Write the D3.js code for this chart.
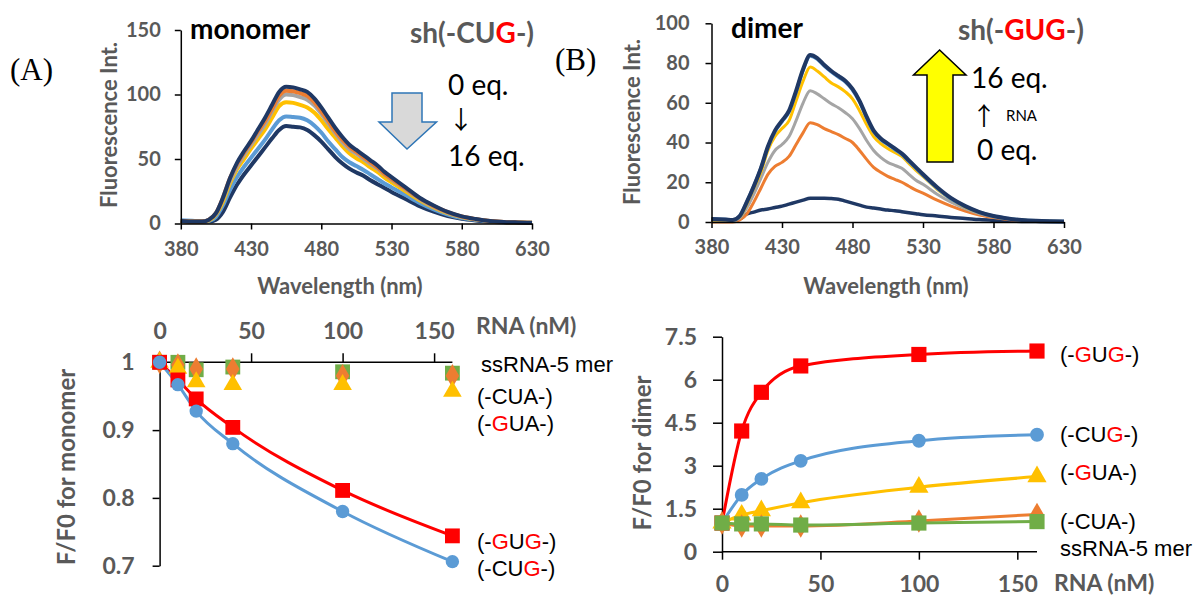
<!DOCTYPE html>
<html><head><meta charset="utf-8">
<script src="https://cdn.jsdelivr.net/npm/d3@7"></script>
<style>
body{margin:0;background:#fff;}
svg{display:block;}
.tk text{font-family:Lato,sans-serif;font-weight:700;fill:#595959;}
.tk line,.tk path{stroke:#000;stroke-width:1.5;}
</style></head>
<body><svg id="c" width="1202" height="596"></svg>
<script>
// ---------- DATA ----------
const wavelengths = [380,390,395,400,405,410,415,420,425,430,435,440,445,450,455,460,465,470,475,480,485,490,495,500,505,510,515,520,525,530,540,550,560,570,580,590,600,610,620,630];
// monomer spectra (sh(-CUG-)), 0 eq -> 16 eq
const monoNavy0   = [2,1.5,1.5,3,8,20,35,47,56,64,73,82,92,102,106,105.5,104,102,97,90,82,74,67,61,57,53,49,45,40,36,28,20,14,9,5.5,3.5,2,1.2,0.8,0.5];
const monoOrange  = [2,1.5,1.5,3,8,20,35,46,55,63,71.5,79.5,89,99,103,102.5,101,99,94,87,79.5,71.5,65,59.5,55.5,51.5,47.5,43.5,38.5,34.5,27,19.5,13.5,8.8,5.4,3.4,2,1.2,0.8,0.5];
const monoGray    = [2,1.5,1.5,3,7.5,19,33,44,53,61,69,77,87,96,100,99.5,98,96,91.5,85,77.5,70,63,57.5,54,50,46,42.5,38,34,26.5,19,13,8.5,5.2,3.3,1.9,1.1,0.8,0.5];
const monoYellow  = [2,1.5,1.5,2.5,7,17,31,42,50,58,65.5,73,82,91,94,93.5,92,90,86,80,73,66.5,60,54.5,50.5,47.5,43.5,40,35.5,32,25,18,12.5,8,5,3.2,1.8,1.1,0.7,0.5];
const monoLtBlue  = [2.5,2,1.5,2,5,14,26,36,44,51,58,65,73,80,83,82.5,82,80,76,70.5,63.5,57.5,51.5,47.5,44.5,41.5,38,34.5,31,28,22,16,11,7,4.3,2.8,1.6,1,0.6,0.4];
const monoNavy16  = [2,1.5,1.5,1.5,3,9,20,30,38,45,52,59,66,72.5,75.5,75,74.5,72.5,68.5,63.5,57.5,51.5,46.5,42.5,39.5,37,33.5,30.5,27.5,24.5,19,13.5,9.2,5.8,3.7,2.4,1.4,0.9,0.5,0.3];
// dimer spectra (sh(-GUG-)), 0 eq -> 16 eq
const dimNavy0    = [1,0.8,0.5,1.5,4,5,6,6.5,7.3,8,9,10,11,12,12,12,11.8,11.5,10.5,9.5,8.5,7.5,7,6.5,6,5.7,5.2,4.7,4.2,3.7,3,2.3,1.8,1.2,0.8,0.5,0.3,0.2,0.1,0.1];
const dimOrange   = [0,0,0,1,4,10,17,24,28,30,33,39,45,50,49,47,45.5,44,42,40,36,31.5,27.5,25,23,21.5,20,18,16,14.5,11,8,5.5,3.5,2.2,1.3,0.8,0.5,0.3,0.2];
const dimGray     = [0.8,0.8,0.6,2,7,14,22,30,36,39,43,51,60,66,64.5,62,59.5,57.5,55,52,47,41,36,32.5,30,28.5,27,24,21,19,14,10,6.8,4.3,2.6,1.6,1,0.6,0.4,0.3];
const dimYellow   = [1,1,0.8,2.5,9,17,25,36,43,47,51,61,71,78,76,73,70,68,65.5,62,56,49,43,39.5,37,35,33,29.5,26,23,16.5,11.5,7.5,4.7,2.8,1.7,1,0.6,0.4,0.3];
const dimLtBlue   = [1.5,1.2,1,3,10,18,27,37.5,45.5,50.5,55.5,65.5,76.5,83.5,82,78.5,75.5,73,70.5,66.5,60.5,52.5,45.5,41.5,39,36.5,34,30.5,27,23.5,17,11.5,7.8,4.9,2.9,1.8,1,0.6,0.4,0.3];
const dimNavy16   = [1.5,1.2,1,3,10,18,27,38,46,51,56,66,77,84,82.5,79,76,73.5,71,67,61,53,46,42,39.5,37,34.5,31,27.5,24,17.5,12,8,5,3,1.8,1,0.6,0.4,0.3];
// titration F/F0
const rnaConc  = [0,10,20,40,100,160];
const monoGUG  = [1.0,0.974,0.946,0.904,0.811,0.744];
const monoCUG  = [1.0,0.967,0.928,0.880,0.780,0.706];
const monoGUA  = [1.0,0.991,0.971,0.967,0.967,0.957];
const monoCUA  = [1.0,0.996,0.990,0.990,0.980,0.980];
const monoSs   = [1.0,1.0,0.989,0.993,0.986,0.984];
const dimGUG   = [1.0,4.21,5.56,6.48,6.88,7.0];
const dimCUG   = [1.0,1.98,2.54,3.17,3.87,4.08];
const dimGUA   = [1.0,1.28,1.43,1.71,2.25,2.62];
const dimCUA   = [1.0,0.9,0.9,0.9,1.07,1.3];
const dimSs    = [1.0,0.97,0.97,0.93,1.0,1.05];
// ticks
const specTicksX = [380,430,480,530,580,630];
const monoSpecTicksY = [0,50,100,150];
const dimSpecTicksY = [0,20,40,60,80,100];
const rnaTicks = [0,50,100,150];
const monoRatioTicksY = [0.7,0.8,0.9,1];
const dimRatioTicksY = [0,1.5,3,4.5,6,7.5];

// ---------- COLORS ----------
const NAVY="#1F3864", ORANGE="#ED7D31", GRAY="#A5A5A5", YELLOW="#FFC000", LTBLUE="#5B9BD5", RED="#FF0000", GREEN="#70AD47", TXT="#595959";

const svg = d3.select("#c");

function axis(g, gen, fs){
  g.attr("class","tk").call(gen);
  g.selectAll("text").style("font-size", fs+"px");
}

// ---------- Panel A top ----------
(function(){
  const x = d3.scaleLinear().domain([380,630]).range([180.8,532]);
  const y = d3.scaleLinear().domain([0,150]).range([223.5,30]);
  const g = svg.append("g");
  const series = [[monoNavy16,NAVY],[monoLtBlue,LTBLUE],[monoYellow,YELLOW],[monoGray,GRAY],[monoOrange,ORANGE],[monoNavy0,NAVY]];
  const line = d3.line().x((d,i)=>x(wavelengths[i])).y(d=>y(d)).curve(d3.curveMonotoneX);
  series.forEach(s=>g.append("path").attr("d",line(s[0])).attr("fill","none").attr("stroke",s[1]).attr("stroke-width",4).attr("stroke-linejoin","round"));
  const ax = g.append("g").attr("transform",`translate(0,${y(0)})`);
  axis(ax, d3.axisBottom(x).tickValues(specTicksX).tickSize(6).tickSizeOuter(0).tickPadding(12).tickFormat(d3.format("d")), 20);
  const ay = g.append("g").attr("transform",`translate(${x(380)},0)`);
  axis(ay, d3.axisLeft(y).tickValues(monoSpecTicksY).tickSize(6).tickSizeOuter(0).tickPadding(14).tickFormat(d3.format("d")), 20);
  g.append("text").attr("x",340).attr("y",294).attr("text-anchor","middle").attr("font-family","Lato").attr("font-weight",700).attr("font-size",22).attr("fill",TXT).text("Wavelength (nm)");
  g.append("text").attr("transform","translate(111,125) rotate(-90)").attr("text-anchor","middle").attr("dominant-baseline","middle").attr("font-family","Lato").attr("font-weight",700).attr("font-size",22).attr("fill",TXT).text("Fluorescence Int.");
  g.append("text").attr("x",190).attr("y",39).attr("font-family","Lato").attr("font-weight",700).attr("font-size",28).attr("fill","#000").text("monomer");
  const t = g.append("text").attr("x",410).attr("y",43).attr("font-family","Lato").attr("font-weight",700).attr("font-size",28).attr("fill",TXT);
  t.append("tspan").text("sh(-CU"); t.append("tspan").attr("fill",RED).text("G"); t.append("tspan").text("-)");
  g.append("path").attr("d","M392,93 L422,93 L422,122 L436.5,122 L407,149 L379,122 L392,122 Z").attr("fill","#D9D9D9").attr("stroke","#2E75B6").attr("stroke-width",1.5);
  g.append("text").attr("x",448).attr("y",95).attr("font-family","Lato").attr("font-size",28).attr("fill","#000").text("0 eq.");
  g.append("text").attr("x",461).attr("y",129).attr("text-anchor","middle").attr("font-family","Noto Sans CJK JP").attr("font-size",25).attr("fill","#000").text("↓");
  g.append("text").attr("x",448).attr("y",166).attr("font-family","Lato").attr("font-size",28).attr("fill","#000").text("16 eq.");
  svg.append("text").attr("x",10).attr("y",80).attr("font-family","Liberation Serif").attr("font-size",31).attr("fill","#000").text("(A)");
})();

// ---------- Panel B top ----------
(function(){
  const x = d3.scaleLinear().domain([380,630]).range([711.5,1064]);
  const y = d3.scaleLinear().domain([0,100]).range([222,23.3]);
  const g = svg.append("g");
  const series = [[dimNavy0,NAVY,3.5],[dimOrange,ORANGE,3],[dimGray,GRAY,3],[dimYellow,YELLOW,3],[dimLtBlue,LTBLUE,3.5],[dimNavy16,NAVY,4]];
  const line = d3.line().x((d,i)=>x(wavelengths[i])).y(d=>y(d)).curve(d3.curveMonotoneX);
  series.forEach(s=>g.append("path").attr("d",line(s[0])).attr("fill","none").attr("stroke",s[1]).attr("stroke-width",s[2]).attr("stroke-linejoin","round"));
  const ax = g.append("g").attr("transform",`translate(0,${y(0)})`);
  axis(ax, d3.axisBottom(x).tickValues(specTicksX).tickSize(6).tickSizeOuter(0).tickPadding(12).tickFormat(d3.format("d")), 20);
  const ay = g.append("g").attr("transform",`translate(${x(380)},0)`);
  axis(ay, d3.axisLeft(y).tickValues(dimSpecTicksY).tickSize(6).tickSizeOuter(0).tickPadding(16).tickFormat(d3.format("d")), 20);
  g.append("text").attr("x",886).attr("y",294).attr("text-anchor","middle").attr("font-family","Lato").attr("font-weight",700).attr("font-size",22).attr("fill",TXT).text("Wavelength (nm)");
  g.append("text").attr("transform","translate(634,122) rotate(-90)").attr("text-anchor","middle").attr("dominant-baseline","middle").attr("font-family","Lato").attr("font-weight",700).attr("font-size",22).attr("fill",TXT).text("Fluorescence Int.");
  g.append("text").attr("x",731).attr("y",38).attr("font-family","Lato").attr("font-weight",700).attr("font-size",28).attr("fill","#000").text("dimer");
  const t = g.append("text").attr("x",958).attr("y",40).attr("font-family","Lato").attr("font-weight",700).attr("font-size",28).attr("fill",TXT);
  t.append("tspan").text("sh(-"); t.append("tspan").attr("fill",RED).text("GUG"); t.append("tspan").text("-)");
  g.append("path").attr("d","M939.6,50 L966,75 L953,75 L953,162 L927,162 L927,75 L913.5,75 Z").attr("fill","#FFFF00").attr("stroke","#000").attr("stroke-width",1.5);
  g.append("text").attr("x",971).attr("y",88).attr("font-family","Lato").attr("font-size",28).attr("fill","#000").text("16 eq.");
  g.append("text").attr("x",984).attr("y",125).attr("text-anchor","middle").attr("font-family","Noto Sans CJK JP").attr("font-size",25).attr("fill","#000").text("↑");
  g.append("text").attr("x",1006).attr("y",121).attr("font-family","Lato").attr("font-size",15).attr("fill","#000").text("RNA");
  g.append("text").attr("x",977).attr("y",160).attr("font-family","Lato").attr("font-size",28).attr("fill","#000").text("0 eq.");
  svg.append("text").attr("x",555).attr("y",70).attr("font-family","Liberation Serif").attr("font-size",31).attr("fill","#000").text("(B)");
})();

function drawMarker(g, type, color, size, cx, cy){
  g.append("path").attr("d", d3.symbol().type(type).size(size)()).attr("transform",`translate(${cx},${cy})`).attr("fill",color);
}
function label(g, x, y, parts){
  const t = g.append("text").attr("x",x).attr("y",y).attr("dominant-baseline","middle").attr("font-family","Liberation Sans").attr("font-size",22).attr("fill","#000");
  parts.forEach(p=>{ const s=t.append("tspan").text(p[0]); if(p[1]) s.attr("fill",p[1]); });
}

// ---------- Panel A bottom ----------
(function(){
  const x = d3.scaleLinear().domain([0,160]).range([159.6,452.4]);
  const y = d3.scaleLinear().domain([0.7,1]).range([565.7,362.3]);
  const g = svg.append("g");
  const ay = g.append("g").attr("transform",`translate(${x(0)},0)`);
  axis(ay, d3.axisLeft(y).tickValues(monoRatioTicksY).tickSize(7).tickSizeOuter(0).tickPadding(18).tickFormat(d=>d3.format("")(d)), 23);
  const ax = g.append("g").attr("transform",`translate(0,${y(1)})`);
  axis(ax, d3.axisTop(x).tickValues(rnaTicks).tickSize(9).tickSizeOuter(0).tickPadding(14).tickFormat(d3.format("d")), 23);
  ax.selectAll(".domain").attr("d",`M${x(0)},0H${x(160)}`);
  const line = d3.line().x((d,i)=>x(rnaConc[i])).y(d=>y(d)).curve(d3.curveMonotoneX);
  g.append("path").attr("d",line(monoGUG)).attr("fill","none").attr("stroke",RED).attr("stroke-width",3);
  g.append("path").attr("d",line(monoCUG)).attr("fill","none").attr("stroke",LTBLUE).attr("stroke-width",3);
  monoSs.forEach((v,i)=>drawMarker(g,d3.symbolSquare,GREEN,220,x(rnaConc[i]),y(v)));
  monoCUA.forEach((v,i)=>drawMarker(g,d3.symbolDiamond,ORANGE,160,x(rnaConc[i]),y(v)));
  monoGUA.forEach((v,i)=>drawMarker(g,d3.symbolTriangle,YELLOW,150,x(rnaConc[i]),y(v)));
  monoGUG.forEach((v,i)=>drawMarker(g,d3.symbolSquare,RED,220,x(rnaConc[i]),y(v)));
  monoCUG.forEach((v,i)=>drawMarker(g,d3.symbolCircle,LTBLUE,140,x(rnaConc[i]),y(v)));
  g.append("text").attr("x",476).attr("y",328).attr("dominant-baseline","middle").attr("font-family","Lato").attr("font-weight",700).attr("font-size",23).attr("fill",TXT).text("RNA (nM)");
  g.append("text").attr("transform","translate(69,467) rotate(-90)").attr("text-anchor","middle").attr("dominant-baseline","middle").attr("font-family","Lato").attr("font-weight",700).attr("font-size",24).attr("fill",TXT).text("F/F0 for monomer");
  label(g,481,366,[["ssRNA-5 mer"]]);
  label(g,477,398,[["(-CUA-)"]]);
  label(g,477,425,[["(-"],["G",RED],["UA-)"]]);
  label(g,477,543,[["(-"],["G",RED],["U"],["G",RED],["-)"]]);
  label(g,477,570,[["(-CU"],["G",RED],["-)"]]);
})();

// ---------- Panel B bottom ----------
(function(){
  const x = d3.scaleLinear().domain([0,160]).range([722,1037]);
  const y = d3.scaleLinear().domain([0,7.5]).range([551.7,336.7]);
  const g = svg.append("g");
  const ay = g.append("g").attr("transform",`translate(${x(0)},0)`);
  axis(ay, d3.axisLeft(y).tickValues(dimRatioTicksY).tickSize(9).tickSizeOuter(0).tickPadding(16).tickFormat(d=>d3.format("")(d)), 23);
  const ax = g.append("g").attr("transform",`translate(0,${y(0)})`);
  axis(ax, d3.axisBottom(x).tickValues(rnaTicks).tickSize(8).tickSizeOuter(0).tickPadding(16).tickFormat(d3.format("d")), 23);
  ax.selectAll(".domain").attr("d",`M${x(0)},0H${x(160)}`);
  const line = d3.line().x((d,i)=>x(rnaConc[i])).y(d=>y(d)).curve(d3.curveMonotoneX);
  const sets = [[dimGUG,RED,d3.symbolSquare,230],[dimCUG,LTBLUE,d3.symbolCircle,150],[dimGUA,YELLOW,d3.symbolTriangle,160],[dimCUA,ORANGE,d3.symbolDiamond,160],[dimSs,GREEN,d3.symbolSquare,230]];
  sets.forEach(s=>{
    g.append("path").attr("d",line(s[0])).attr("fill","none").attr("stroke",s[1]).attr("stroke-width",3);
    s[0].forEach((v,i)=>drawMarker(g,s[2],s[1],s[3],x(rnaConc[i]),y(v)));
  });
  g.append("text").attr("x",1054).attr("y",585).attr("dominant-baseline","middle").attr("font-family","Lato").attr("font-weight",700).attr("font-size",23).attr("fill",TXT).text("RNA (nM)");
  g.append("text").attr("transform","translate(645,453) rotate(-90)").attr("text-anchor","middle").attr("dominant-baseline","middle").attr("font-family","Lato").attr("font-weight",700).attr("font-size",24).attr("fill",TXT).text("F/F0 for dimer");
  label(g,1060,356,[["(-"],["G",RED],["U"],["G",RED],["-)"]]);
  label(g,1060,436,[["(-CU"],["G",RED],["-)"]]);
  label(g,1060,474,[["(-"],["G",RED],["UA-)"]]);
  label(g,1060,523,[["(-CUA-)"]]);
  label(g,1060,550,[["ssRNA-5 mer"]]);
})();
</script></body></html>
